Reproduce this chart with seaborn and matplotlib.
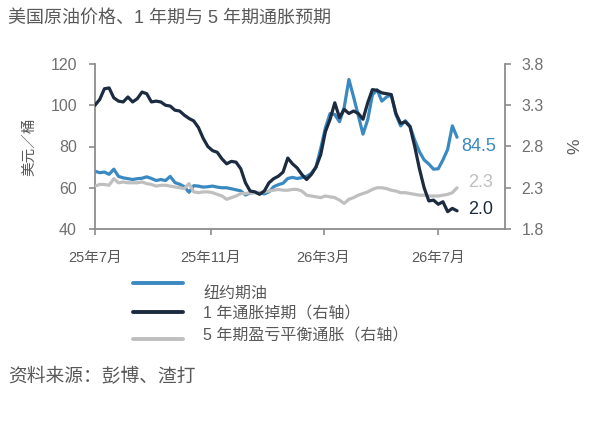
import numpy as np
import pandas as pd
import seaborn as sns
import matplotlib.pyplot as plt
from matplotlib.lines import Line2D

# ---- data ----
dates = pd.date_range("2025-07-01", periods=78, freq="5D")

# 纽约期油 (美元/桶)
oil = [68, 67.3, 67.6, 66.5, 69, 65.5, 64.8, 64.4, 64, 64.4,
       64.6, 65.3, 64.5, 63.5, 64, 63.5, 65.5, 62.5, 61.7, 60.5,
       57.8, 61, 60.8, 60.3, 60.5, 60.8, 60.3, 60, 60, 59.5,
       59, 58.5, 56.5, 57.5, 57.7, 57.7, 57, 58, 60.5, 61.5,
       62.2, 64.5, 65, 64.5, 64.9, 65.5, 67, 70, 79, 89,
       96, 95.5, 92, 99, 112.5, 104, 95, 86, 93, 105,
       107.5, 102, 104, 105, 95.5, 90, 92.5, 89.8, 83, 77.5,
       73.5, 71.5, 69, 69.2, 73.5, 78.6, 90, 84.5]

# 1年通胀掉期 (%)
swap_1y = [3.30, 3.37, 3.50, 3.51, 3.39, 3.35, 3.34, 3.40, 3.34, 3.38,
           3.46, 3.44, 3.34, 3.35, 3.34, 3.30, 3.29, 3.24, 3.23, 3.18,
           3.14, 3.11, 3.03, 2.90, 2.80, 2.75, 2.73, 2.65, 2.59, 2.62,
           2.61, 2.53, 2.36, 2.26, 2.25, 2.22, 2.26, 2.36, 2.41, 2.44,
           2.49, 2.66, 2.59, 2.54, 2.46, 2.40, 2.46, 2.55, 2.70, 2.98,
           3.13, 3.33, 3.15, 3.25, 3.20, 3.23, 3.20, 3.13, 3.33, 3.49,
           3.48, 3.45, 3.44, 3.43, 3.20, 3.08, 3.10, 3.04, 2.80, 2.53,
           2.30, 2.14, 2.15, 2.10, 2.13, 2.01, 2.05, 2.02]

# 5年期盈亏平衡通胀 (%)
breakeven_5y = [2.32, 2.34, 2.34, 2.33, 2.41, 2.36, 2.37, 2.36, 2.36, 2.36,
                2.37, 2.35, 2.34, 2.32, 2.33, 2.33, 2.32, 2.31, 2.30, 2.29,
                2.35, 2.25, 2.24, 2.25, 2.25, 2.24, 2.22, 2.20, 2.16, 2.18,
                2.20, 2.23, 2.23, 2.24, 2.24, 2.24, 2.25, 2.26, 2.27, 2.28,
                2.27, 2.27, 2.28, 2.28, 2.26, 2.21, 2.20, 2.19, 2.18, 2.20,
                2.19, 2.18, 2.15, 2.11, 2.16, 2.18, 2.21, 2.23, 2.25, 2.28,
                2.30, 2.30, 2.29, 2.27, 2.26, 2.24, 2.24, 2.23, 2.22, 2.21,
                2.21, 2.20, 2.20, 2.20, 2.21, 2.22, 2.24, 2.30]

tick_dates = pd.to_datetime(["2025-07-01", "2025-11-01", "2026-03-01", "2026-07-01"])
tick_labels = ["25年7月", "25年11月", "26年3月", "26年7月"]
legend_labels = ["纽约期油", "1 年通胀掉期（右轴）", "5 年期盈亏平衡通胀（右轴）"]

c_oil = "#3a89c0"
c_1y = "#1c2b40"
c_5y = "#bfbfbf"
c_axis = "#8c8c8c"
c_text = "#595959"

# ---- plot ----
sns.set_style("white")
fonts = ["Liberation Sans", "Noto Sans CJK SC", "DejaVu Sans"]
plt.rcParams["font.family"] = fonts

fig = plt.figure(figsize=(5.96, 4.28), dpi=100)
ax = fig.add_axes([95 / 596, 1 - 229 / 428, 410 / 596, 165 / 428])
ax2 = ax.twinx()

sns.lineplot(x=dates, y=oil, ax=ax, color=c_oil, linewidth=2.3)
sns.lineplot(x=dates, y=breakeven_5y, ax=ax2, color=c_5y, linewidth=2.3)
sns.lineplot(x=dates, y=swap_1y, ax=ax2, color=c_1y, linewidth=2.3)

ax.set_xlim(pd.Timestamp("2025-07-01"), pd.Timestamp("2026-09-10"))
ax.set_ylim(40, 120)
ax.set_yticks([40, 60, 80, 100, 120])
ax2.set_ylim(1.8, 3.8)
ax2.set_yticks([1.8, 2.3, 2.8, 3.3, 3.8])
ax2.set_yticklabels(["1.8", "2.3", "2.8", "3.3", "3.8"])
ax.set_xticks(tick_dates)
ax.set_xticklabels(tick_labels)

for a in (ax, ax2):
    a.spines["top"].set_visible(False)
    for s in ("left", "right", "bottom"):
        a.spines[s].set_color(c_axis)
        a.spines[s].set_linewidth(1.3)
    a.set_xlabel("")
    a.set_ylabel("")
ax.spines["right"].set_visible(False)
ax2.spines["left"].set_visible(False)
ax2.spines["bottom"].set_visible(False)

ax.tick_params(axis="y", direction="out", length=4, width=1.2, color=c_axis,
               labelsize=11.5, labelcolor="#707070", pad=9, left=True)
ax.tick_params(axis="x", direction="out", length=4.5, width=1.2, color=c_axis,
               labelsize=10.5, labelcolor=c_text, pad=11, bottom=True)
ax2.tick_params(axis="y", direction="out", length=4, width=1.2, color=c_axis,
                labelsize=11.5, labelcolor="#707070", pad=8, right=True)

ax.text(-0.16, 0.5, "美元／桶", transform=ax.transAxes, rotation=90,
        ha="center", va="center", fontsize=10.5, color=c_text)
ax2.text(1.17, 0.5, "%", transform=ax2.transAxes, rotation=90,
         ha="center", va="center", fontsize=12.5, color=c_text)

# end-of-series labels
ax.annotate(f"{oil[-1]:.1f}", xy=(dates[-1], oil[-1]), xytext=(3, -7),
            textcoords="offset points", fontsize=13, color=c_oil, va="center")
ax2.annotate(f"{breakeven_5y[-1]:.1f}", xy=(dates[-1], breakeven_5y[-1]), xytext=(8, 4),
             textcoords="offset points", fontsize=13, color=c_5y, va="center")
ax2.annotate(f"{swap_1y[-1]:.1f}", xy=(dates[-1], swap_1y[-1]), xytext=(8, 1),
             textcoords="offset points", fontsize=13, color=c_1y, va="center")

# title, legend and source
fig.text(0.013, 0.958, "美国原油价格、1 年期与 5 年期通胀预期", fontsize=13,
         color=c_text, va="center")

leg_line_y = [1 - 283 / 428, 1 - 312 / 428, 1 - 339 / 428]
leg_text_y = [1 - 293 / 428, 1 - 314 / 428, 1 - 336 / 428]
for col, ly, ty, lab in zip([c_oil, c_1y, c_5y], leg_line_y, leg_text_y, legend_labels):
    fig.add_artist(Line2D([133 / 596, 183 / 596], [ly, ly], color=col, linewidth=2.8,
                          transform=fig.transFigure))
    fig.text(203 / 596, ty, lab, fontsize=11.5, color=c_text, va="center")

fig.text(0.013, 1 - 377 / 428, "资料来源：彭博、渣打", fontsize=13.5, color=c_text, va="center")

fig.savefig("out.png", dpi=100)
